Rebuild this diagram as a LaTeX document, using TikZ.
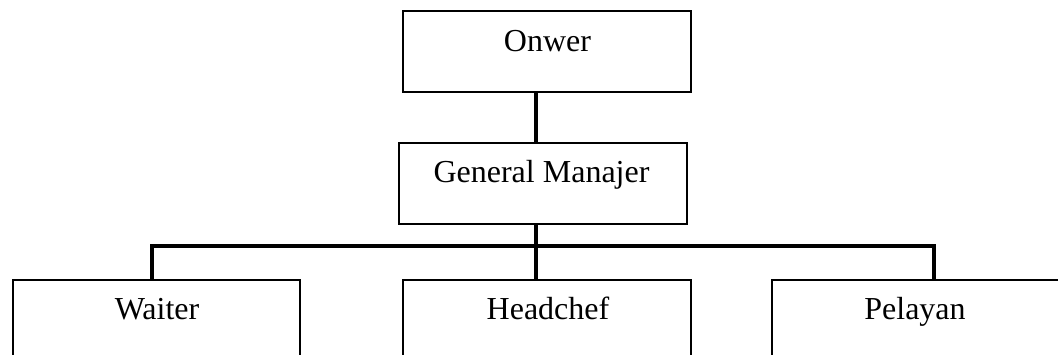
\documentclass[tikz,border=0pt]{standalone}
\usepackage{fontspec}
\setmainfont{Liberation Serif}
\begin{document}
\begin{tikzpicture}[x=1pt,y=-1pt,
  box/.style={draw=black, line width=1.5pt, rectangle, inner sep=0pt},
  lbl/.style={anchor=base, inner sep=0pt, font=\fontsize{32}{38}\selectfont},
  conn/.style={draw=black, line width=3.5pt}]
\clip (0,0) rectangle (1058,355);
\fill[white] (0,0) rectangle (1058,355);
% boxes (centres, sizes in px)
\node[box, minimum width=288pt, minimum height=81pt] (o) at (547,51.5) {};
\node[box, minimum width=288pt, minimum height=81pt] (g) at (543,183.5) {};
\node[box, minimum width=287pt, minimum height=90pt] (w) at (156.5,325) {};
\node[box, minimum width=288pt, minimum height=90pt] (h) at (547,325) {};
\node[box, minimum width=290pt, minimum height=90pt] (p) at (917,325) {};
% texts
\node[lbl] (ot) at (547.5,52) {Onwer};
\node[lbl] (gt) at (541.5,183) {General Manajer};
\node[lbl] (wt) at (157,319.5) {Waiter};
\node[lbl] (ht) at (548,319.5) {Headchef};
\node[lbl] (pt) at (915,319.5) {Pelayan};
% connectors
\coordinate (tx) at (536,0);
\coordinate (bus) at (0,246);
\coordinate (wx) at (152,0);
\coordinate (px) at (934,0);
\draw[conn] (o.south -| tx) -- (g.north -| tx);
\draw[conn] (g.south -| tx) -- (h.north -| tx);
\draw[conn] (w.north -| wx) -- (bus -| wx) -- (bus -| px) -- (p.north -| px);
\end{tikzpicture}
\end{document}
